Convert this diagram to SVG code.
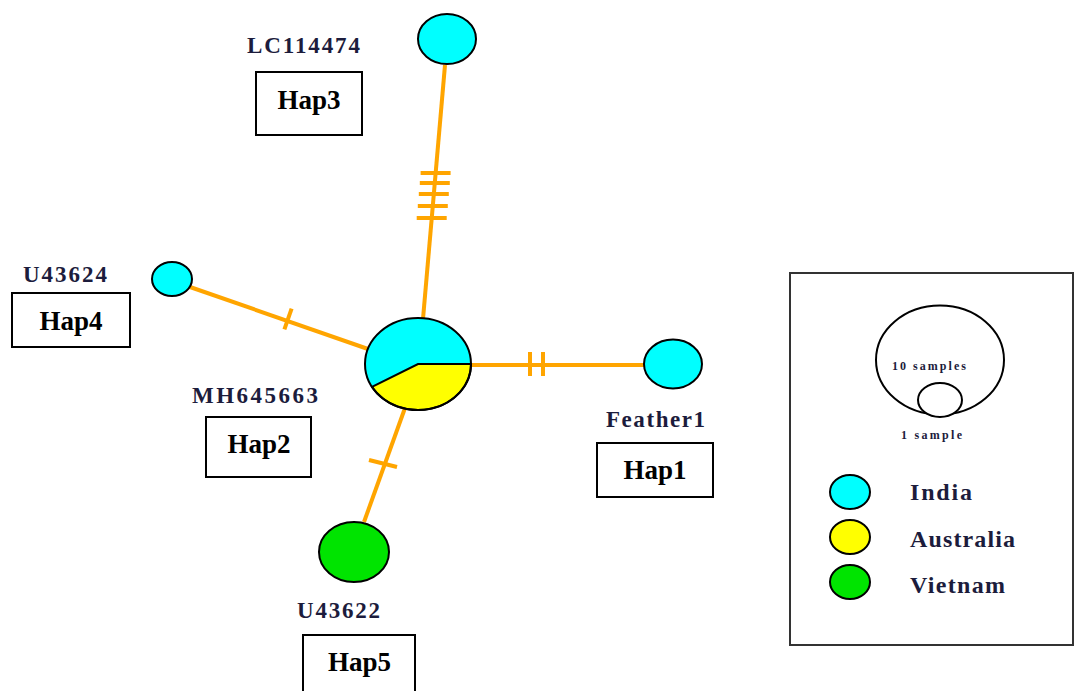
<svg xmlns="http://www.w3.org/2000/svg" width="1077" height="691" viewBox="0 0 1077 691">
<style>
.edge{stroke:#FFA500;stroke-width:4;fill:none}
.tick{stroke:#FFA500;stroke-width:4;fill:none}
.node{stroke:#000;stroke-width:2}
.cy{fill:#00FFFF}
.ye{fill:#FFFF00}
.gr{fill:#00E400}
.lbl{font-family:"Liberation Serif",serif;font-weight:bold;font-size:23px;fill:#1c1c3c}
.hap{font-family:"Liberation Serif",serif;font-weight:bold;font-size:27px;fill:#000}
.box{fill:#fff;stroke:#000;stroke-width:2}
.leg{font-family:"Liberation Serif",serif;font-weight:bold;font-size:24px;fill:#1c1c3c}
.small{font-family:"Liberation Serif",serif;font-weight:bold;font-size:12px;fill:#1c1c3c}
</style>
<rect width="1077" height="691" fill="#fff"/>
<g id="connectors">
<line class="edge" x1="423" y1="319" x2="445" y2="65"/>
<line class="tick" x1="420.6" y1="173" x2="450.6" y2="173"/>
<line class="tick" x1="419.8" y1="183" x2="449.8" y2="183"/>
<line class="tick" x1="418.8" y1="194" x2="448.8" y2="194"/>
<line class="tick" x1="417.8" y1="206" x2="447.8" y2="206"/>
<line class="tick" x1="416.7" y1="218" x2="446.7" y2="218"/>
<line class="edge" x1="190" y1="287" x2="368" y2="349"/>
<line class="tick" x1="291.6" y1="308.6" x2="284.4" y2="329.4"/>
<line class="edge" x1="471" y1="365" x2="645" y2="365"/>
<line class="tick" x1="530" y1="352" x2="530" y2="376"/>
<line class="tick" x1="543" y1="352" x2="543" y2="376"/>
<line class="edge" x1="405" y1="408" x2="364" y2="522"/>
<line class="tick" x1="369" y1="460" x2="397" y2="467"/>
</g>
<g id="hap2">
<ellipse class="cy" cx="418" cy="364" rx="53" ry="46"/>
<path class="ye" d="M418,364 L471,364 A53,46 0 0 1 372,386.9 Z" stroke="#000" stroke-width="2"/>
<ellipse cx="418" cy="364" rx="53" ry="46" fill="none" stroke="#000" stroke-width="2"/>
<text class="lbl" x="192" y="403" textLength="126" lengthAdjust="spacing">MH645663</text>
<rect class="box" x="206" y="417" width="105" height="60"/>
<text class="hap" x="259" y="453" text-anchor="middle">Hap2</text>
</g>
<g id="hap3">
<ellipse class="node cy" cx="447" cy="39" rx="29" ry="25"/>
<text class="lbl" x="247" y="53" textLength="113" lengthAdjust="spacing">LC114474</text>
<rect class="box" x="256" y="72" width="106" height="63"/>
<text class="hap" x="309" y="109" text-anchor="middle">Hap3</text>
</g>
<g id="hap4">
<ellipse class="node cy" cx="172" cy="279" rx="20" ry="17"/>
<text class="lbl" x="23" y="282" textLength="84" lengthAdjust="spacing">U43624</text>
<rect class="box" x="12" y="293" width="118" height="54"/>
<text class="hap" x="71" y="330" text-anchor="middle">Hap4</text>
</g>
<g id="hap1">
<ellipse class="node cy" cx="673" cy="364" rx="29" ry="24.5"/>
<text class="lbl" x="606" y="427" textLength="99" lengthAdjust="spacing">Feather1</text>
<rect class="box" x="597" y="443" width="116" height="54"/>
<text class="hap" x="655" y="479" text-anchor="middle">Hap1</text>
</g>
<g id="hap5">
<ellipse class="node gr" cx="354" cy="552" rx="35" ry="30"/>
<text class="lbl" x="297" y="618" textLength="83" lengthAdjust="spacing">U43622</text>
<rect class="box" x="303" y="635" width="112" height="58"/>
<text class="hap" x="359.5" y="671" text-anchor="middle">Hap5</text>
</g>
<g id="legend">
<rect x="790" y="273" width="283" height="372" fill="#fff" stroke="#333" stroke-width="2"/>
<ellipse cx="940" cy="360" rx="64" ry="54.5" fill="none" stroke="#000" stroke-width="2"/>
<ellipse cx="940" cy="400" rx="22" ry="17" fill="#fff" stroke="#000" stroke-width="2"/>
<text class="small" x="892" y="370" textLength="74" lengthAdjust="spacing">10 samples</text>
<text class="small" x="901" y="439" textLength="61" lengthAdjust="spacing">1 sample</text>
<ellipse class="node cy" cx="850" cy="492" rx="20" ry="17"/>
<ellipse class="node ye" cx="850" cy="537" rx="20" ry="17"/>
<ellipse class="node gr" cx="850" cy="582" rx="20" ry="17"/>
<text class="leg" x="910" y="500" textLength="62" lengthAdjust="spacing">India</text>
<text class="leg" x="910" y="547" textLength="105" lengthAdjust="spacing">Australia</text>
<text class="leg" x="910" y="593" textLength="95" lengthAdjust="spacing">Vietnam</text>
</g>
</svg>
